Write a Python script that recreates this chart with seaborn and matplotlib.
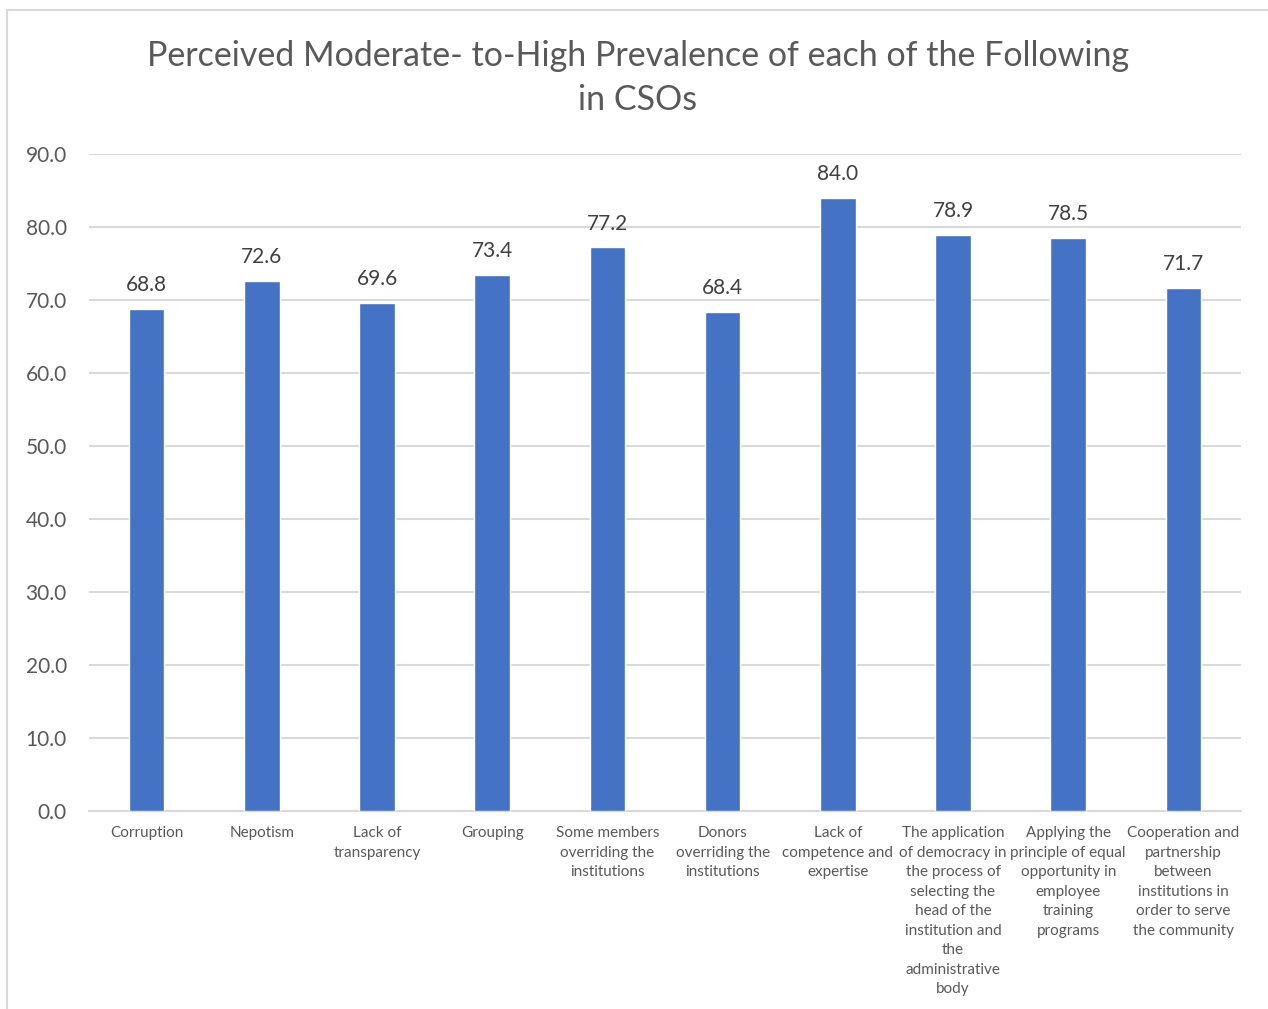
import matplotlib
matplotlib.use("Agg")
import matplotlib.pyplot as plt
import matplotlib.patches as mpatches
import seaborn as sns
import pandas as pd

categories = [
    "Corruption",
    "Nepotism",
    "Lack of\ntransparency",
    "Grouping",
    "Some members\noverriding the\ninstitutions",
    "Donors\noverriding the\ninstitutions",
    "Lack of\ncompetence and\nexpertise",
    "The application\nof democracy in\nthe process of\nselecting the\nhead of the\ninstitution and\nthe\nadministrative\nbody",
    "Applying the\nprinciple of equal\nopportunity in\nemployee\ntraining\nprograms",
    "Cooperation and\npartnership\nbetween\ninstitutions in\norder to serve\nthe community",
]
values = [68.8, 72.6, 69.6, 73.4, 77.2, 68.4, 84.0, 78.9, 78.5, 71.7]
y_ticks = [0, 10, 20, 30, 40, 50, 60, 70, 80, 90]
title = "Perceived Moderate- to-High Prevalence of each of the Following\nin CSOs"

df = pd.DataFrame({"category": categories, "value": values})

sns.set_theme(style="white")
plt.rcParams["font.family"] = ["Lato", "DejaVu Sans"]

text_color = "#595959"
grid_color = "#d9d9d9"
bar_color = "#4472C4"

fig = plt.figure(figsize=(12.68, 10.09), dpi=100)
ax = fig.add_axes([89 / 1268, 1 - 811 / 1009, (1241 - 89) / 1268, (811 - 154) / 1009])

sns.barplot(data=df, x="category", y="value", color=bar_color, width=0.31,
            saturation=1, ax=ax, zorder=3)

ax.set_ylim(0, 90)
ax.set_yticks(y_ticks)
ax.set_yticklabels([f"{t:.1f}" for t in y_ticks], fontsize=15, color=text_color)
ax.tick_params(axis="y", length=0, pad=16)
ax.tick_params(axis="x", length=0, pad=11)
for lab in ax.get_xticklabels():
    lab.set_fontsize(11)
    lab.set_color(text_color)
    lab.set_linespacing(1.5)
    lab.set_verticalalignment("top")

ax.yaxis.grid(True, color=grid_color, linewidth=1.5, zorder=0)
ax.set_axisbelow(True)
for side in ["top", "right", "left"]:
    ax.spines[side].set_visible(False)
ax.spines["bottom"].set_color(grid_color)
ax.spines["bottom"].set_linewidth(1.5)
ax.set_xlabel("")
ax.set_ylabel("")

for patch, v in zip(ax.patches, values):
    ax.annotate(f"{v:.1f}", (patch.get_x() + patch.get_width() / 2, patch.get_height()),
                xytext=(0, 10), textcoords="offset points", ha="center", va="bottom",
                fontsize=15, color="#404040")

fig.text(638 / 1268, 1 - 78 / 1009, title, ha="center", va="center",
         fontsize=24.5, color=text_color, linespacing=1.5)

# chart frame
fig.patches.append(mpatches.Rectangle((7 / 1268, -0.05), 1.2, 1 - 10 / 1009 + 0.05,
                                      transform=fig.transFigure, fill=False,
                                      edgecolor=grid_color, linewidth=1.5))

fig.savefig("out.png", dpi=100, facecolor="white")
